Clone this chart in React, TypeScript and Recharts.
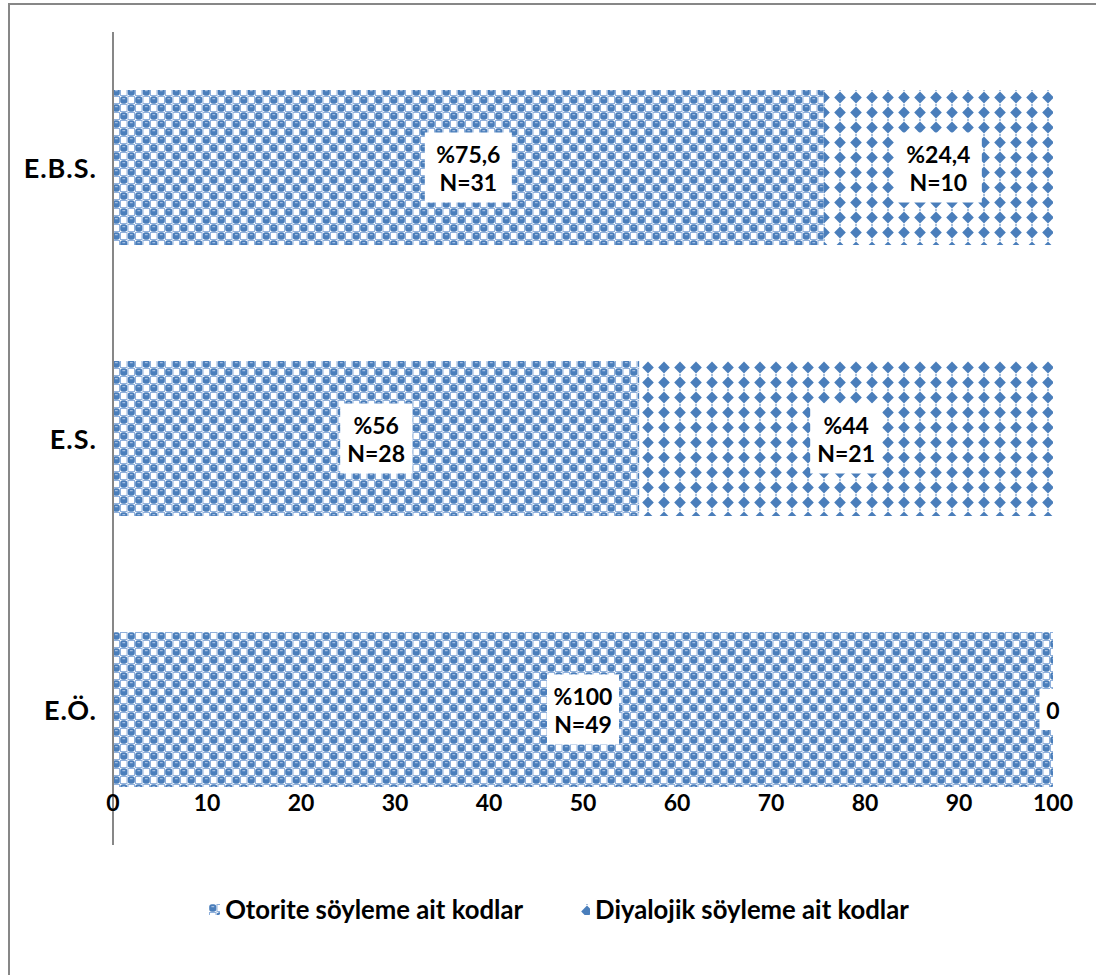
import { BarChart, Bar, XAxis, YAxis, LabelList } from 'recharts'

const categories = ['E.B.S.', 'E.S.', 'E.Ö.']
const otoritePct = [75.6, 56, 100]
const otoriteN = [31, 28, 49]
const diyalojikPct = [24.4, 44, 0]
const diyalojikN = [10, 21, 0]
const xTicks = [0, 10, 20, 30, 40, 50, 60, 70, 80, 90, 100]

const seriesNames = ['Otorite söyleme ait kodlar', 'Diyalojik söyleme ait kodlar']

const data = categories.map((name, i) => ({
  name,
  otorite: otoritePct[i],
  diyalojik: diyalojikPct[i],
}))

const BLUE = '#4a7ebb'
const FONT = 'Lato, "Open Sans", sans-serif'
const FS = 23

function Patterns() {
  return (
    <svg width={0} height={0} style={{ position: 'absolute' }}>
      <defs>
        <pattern id="patOtorite" width={15} height={16} patternUnits="userSpaceOnUse">
          <rect width={15} height={16} fill="#fff" />
          <rect x={8} y={0.5} width={6.5} height={7} fill="none" stroke="#8fb0dc" strokeWidth={1} />
          <rect x={0.5} y={8.5} width={6.5} height={7} fill="none" stroke="#8fb0dc" strokeWidth={1} />
          <rect x={0.2} y={0.3} width={7.1} height={7.4} rx={2.6} fill={BLUE} />
          <rect x={7.7} y={8.3} width={7.1} height={7.4} rx={2.6} fill={BLUE} />
          <rect x={2.4} y={2.2} width={2.8} height={1} fill="#b9cdea" />
          <rect x={9.9} y={10.2} width={2.8} height={1} fill="#b9cdea" />
        </pattern>
        <pattern id="patDiyalojik" width={16} height={15} patternUnits="userSpaceOnUse">
          <rect width={16} height={15} fill="#fff" />
          <path d="M8 1.6 L13.8 7.5 L8 13.4 L2.2 7.5 Z" fill={BLUE} />
          <rect x={7.3} y={-0.7} width={1.4} height={1.4} fill={BLUE} />
          <rect x={7.3} y={14.3} width={1.4} height={1.4} fill={BLUE} />
        </pattern>
      </defs>
    </svg>
  )
}

function LabelBox({ cx, cy, lines }: { cx: number; cy: number; lines: string[] }) {
  const maxLen = Math.max(...lines.map((l) => l.length))
  const w = maxLen * 15 + 12
  const h = lines.length === 1 ? 41 : 70
  return (
    <g>
      <rect x={cx - w / 2} y={cy - h / 2} width={w} height={h} fill="#fff" />
      {lines.map((l, k) => (
        <text
          key={k}
          x={cx}
          y={cy + (lines.length === 1 ? 0 : k === 0 ? -14 : 14)}
          textAnchor="middle"
          dominantBaseline="central"
          fontFamily={FONT}
          fontWeight={700}
          fontSize={FS}
          fill="#000"
        >
          {l}
        </text>
      ))}
    </g>
  )
}

// next: the series stacked after this one; its zero-value labels are drawn at this bar's end
const makeLabel = (pcts: number[], counts: number[], next?: number[]) => (props: any) => {
  const vb = props.viewBox ?? props
  const x = Number(vb.x ?? props.x)
  const y = Number(vb.y ?? props.y)
  const width = Number(vb.width ?? props.width)
  const height = Number(vb.height ?? props.height)
  const idx = typeof props.index === 'number' ? props.index : pcts.indexOf(Number(props.value))
  if (idx < 0) return null
  const pct = pcts[idx]
  if (pct === 0) return null
  const cy = y + height / 2
  return (
    <g>
      <LabelBox cx={x + width / 2} cy={cy} lines={[`%${String(pct).replace('.', ',')}`, `N=${counts[idx]}`]} />
      {next && next[idx] === 0 && <LabelBox cx={x + width} cy={cy} lines={['0']} />}
    </g>
  )
}

const XTick = (props: any) => (
  <text
    x={props.x}
    y={802}
    textAnchor="middle"
    dominantBaseline="central"
    fontFamily={FONT}
    fontWeight={700}
    fontSize={FS}
    fill="#000"
  >
    {props.payload.value}
  </text>
)

const YTick = (props: any) => (
  <text
    x={97}
    y={props.y}
    textAnchor="end"
    dominantBaseline="central"
    fontFamily={FONT}
    fontWeight={700}
    fontSize={27}
    letterSpacing={1}
    fill="#000"
  >
    {props.payload.value}
  </text>
)

export default function App() {
  return (
    <div style={{ position: 'fixed', left: 0, top: 0, width: 1096, height: 975, overflow: 'hidden', background: '#fff' }}>
      <Patterns />
      <div
        style={{
          position: 'absolute',
          left: 8,
          top: 3,
          width: 1200,
          height: 1100,
          border: '2px solid #878787',
          boxSizing: 'border-box',
        }}
      />
      <div style={{ position: 'absolute', left: 0, top: 0 }}>
        <BarChart
          width={1096}
          height={975}
          data={data}
          layout="vertical"
          margin={{ top: 32, right: 43, bottom: 100, left: 0 }}
          barSize={155}
        >
          <XAxis
            type="number"
            domain={[0, 100]}
            ticks={xTicks}
            axisLine={false}
            tickLine={false}
            height={30}
            tick={<XTick />}
          />
          <YAxis
            type="category"
            dataKey="name"
            width={113}
            axisLine={{ stroke: '#878787', strokeWidth: 2 }}
            tickLine={false}
            tick={<YTick />}
          />
          <Bar dataKey="otorite" stackId="a" fill="url(#patOtorite)" isAnimationActive={false}>
            <LabelList dataKey="otorite" content={makeLabel(otoritePct, otoriteN, diyalojikPct)} />
          </Bar>
          <Bar dataKey="diyalojik" stackId="a" fill="url(#patDiyalojik)" isAnimationActive={false}>
            <LabelList dataKey="diyalojik" content={makeLabel(diyalojikPct, diyalojikN)} />
          </Bar>
        </BarChart>
      </div>
      <div
        style={{
          position: 'absolute',
          left: 0,
          top: 894,
          width: 1096,
          paddingLeft: 22,
          boxSizing: 'border-box',
          display: 'flex',
          justifyContent: 'center',
          alignItems: 'center',
          fontFamily: FONT,
          fontWeight: 700,
          fontSize: 25.7,
          color: '#000',
        }}
      >
        {seriesNames.map((n, i) => (
          <div key={n} style={{ display: 'flex', alignItems: 'center', marginRight: i === 0 ? 56 : 0 }}>
            <svg width={11} height={11} style={{ marginRight: 5 }}>
              <rect width={11} height={11} fill={i === 0 ? 'url(#patOtorite)' : 'url(#patDiyalojik)'} />
            </svg>
            <span>{n}</span>
          </div>
        ))}
      </div>
    </div>
  )
}
